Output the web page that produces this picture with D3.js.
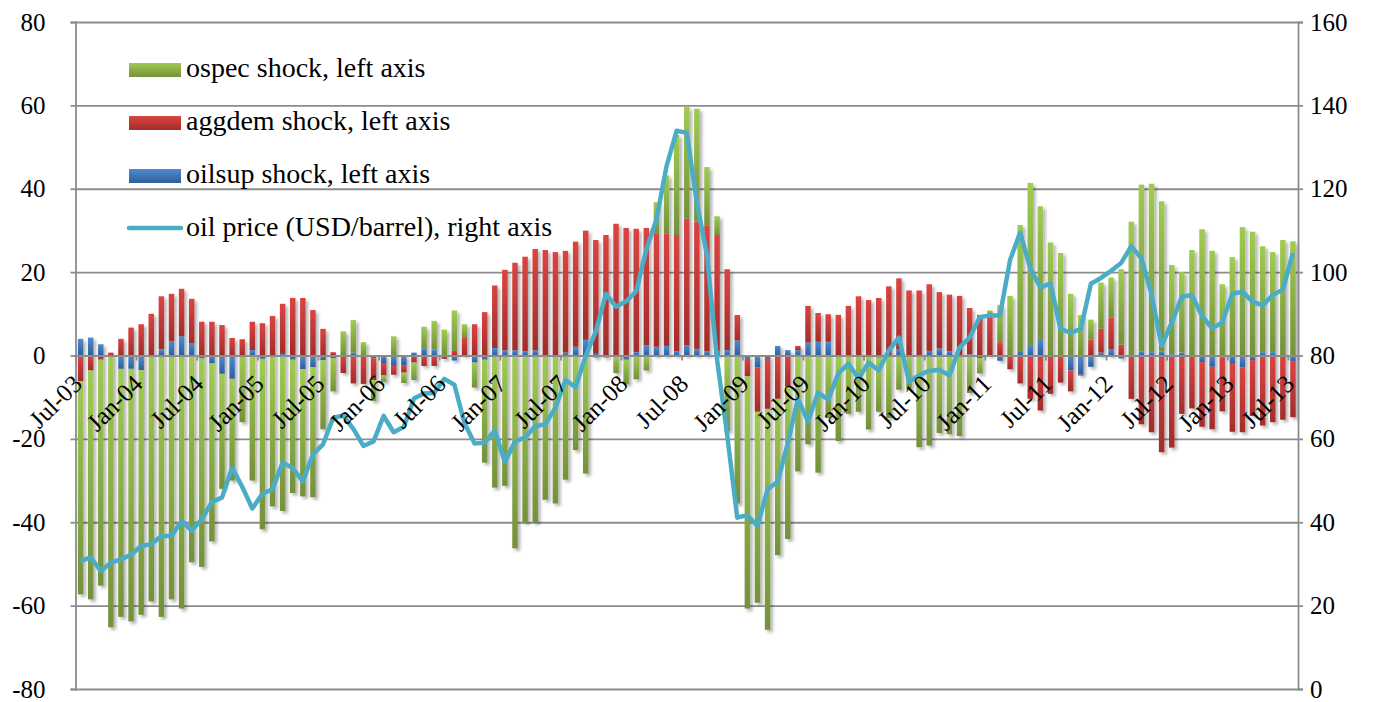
<!DOCTYPE html>
<html>
<head>
<meta charset="utf-8">
<script src="https://cdn.jsdelivr.net/npm/d3@7"></script>
<style>
  body { margin: 0; background: #fff; }
  text { font-family: "Liberation Serif", "Times New Roman", serif; fill: #000; }
</style>
</head>
<body>
<svg id="chart" width="1383" height="702"></svg>
<script>
// monthly categories Jul-03 .. Jul-13
var months = d3.timeMonth.range(new Date(2003, 6, 1), new Date(2013, 7, 1));
var tickLabels = ["Jul-03","Jan-04","Jul-04","Jan-05","Jul-05","Jan-06","Jul-06","Jan-07","Jul-07","Jan-08","Jul-08",
  "Jan-09","Jul-09","Jan-10","Jul-10","Jan-11","Jul-11","Jan-12","Jul-12","Jan-13","Jul-13"];
var leftTicks = [-80, -60, -40, -20, 0, 20, 40, 60, 80];
var rightTicks = [0, 20, 40, 60, 80, 100, 120, 140, 160];

var oilsup = [
  4.0, 4.3, 2.7, 0, -3.2, -3.2,
  -3.5, 0, 1.5, 3.5, 4.6, 3.0, -0.7, -1.9, -4.4, -5.6, 0, 1.3,
  -0.8, 0, 0.4, -1.0, -3.3, -2.8, -1.1, -0.7, 0, 0.7, 0, -0.7,
  -1.8, -2.5, -2.3, 0.7, 1.7, 1.4, 0, -1.2, 0, -1.7, -1.0, 1.8,
  1.25, 1.25, 1.0, 1.25, 0, 0, 0.7, 2.1, 3.75, 0.4, 0, 0,
  -1.0, 0.8, 2.5, 2.1, 2.3, 1.0, 2.5, 1.6, 1.0, 1.0, 1.3, 3.6,
  -0.8, -2.8, -0.8, 2.3, 1.3, 1.3, 3.1, 3.3, 3.3, 0, 0, 0,
  0, -0.5, 0, 1.4, 0, 0, 1.1, 1.7, 1.0, 0, 0.3, -0.6,
  0, -1.25, 0, 1.1, 2.3, 4.0, 0, 0, -3.6, -4.6, -2.7, 0.7,
  1.4, -0.7, 0, 1.0, 0.8, 1.0, 0.3, 0.7, 0, -1.6, -2.7, -0.5,
  -1.8, -2.9, -1.1, 0.8, 0.8, 0, -1.3
];
var aggdem = [
  -6.2, -3.6, -1.0, 0.7, 4.0, 6.7,
  7.5, 10.0, 12.7, 11.3, 11.4, 10.6, 8.1, 8.1, 7.3, 4.2, 3.9, 6.8,
  7.75, 9.5, 12.0, 13.8, 13.8, 10.9, 6.4, 0.8, -4.2, -6.7, -6.8, -5.2,
  -3.0, -2.1, -1.8, -1.7, -2.5, -2.5, -0.8, 1.1, 4.2, 7.5, 10.4, 15.0,
  19.3, 21.0, 22.7, 24.3, 25.3, 24.8, 24.4, 25.2, 26.2, 27.3, 28.9, 31.6,
  30.6, 29.6, 28.1, 27.1, 27.0, 27.9, 30.3, 30.5, 30.1, 27.9, 19.4, 6.1,
  -4.2, -10.7, -12.0, -10.4, -7.5, 1.0, 8.8, 6.9, 6.6, 9.75, 11.9, 14.2,
  13.3, 13.8, 16.6, 17.1, 15.6, 15.6, 16.0, 13.5, 13.6, 14.3, 11.1, 9.75,
  9.75, 3.2, -3.3, -6.7, -10.4, -13.2, -9.2, -6.5, -5.0, -0.2, 3.8, 5.7,
  7.7, 2.6, -10.4, -16.5, -18.4, -23.2, -22.1, -14.0, -12.7, -15.5, -15.0, -12.9,
  -16.5, -15.5, -13.4, -16.8, -16.0, -15.4, -13.5
];
var ospec = [
  -51.1, -54.9, -54.2, -65.2, -59.5, -60.6,
  -58.7, -59.0, -62.7, -58.5, -60.7, -49.6, -50.0, -42.7, -27.6, -24.4, -16.0, -30.0,
  -40.9, -36.2, -37.3, -32.0, -30.5, -31.2, -16.6, -7.9, 5.8, 7.8, 3.2, -5.0,
  -1.5, 4.6, -2.5, -4.2, 5.2, 6.9, 6.2, 9.7, 3.3, -6.0, -24.7, -31.7,
  -31.25, -46.25, -40.0, -40.0, -34.6, -35.5, -29.8, -22.7, -28.3, -0.5, -0.5, -4.2,
  -5.8, -5.7, -3.6, 7.6, 13.9, 24.0, 26.8, 27.1, 14.1, 4.5, -18.2, -35.5,
  -55.7, -45.8, -53.0, -37.5, -36.5, -27.8, -21.3, -28.1, -15.0, -20.5, -14.0, -13.5,
  -17.75, -13.0, -15.0, -8.2, -8.0, -22.0, -21.6, -18.6, -18.9, -19.3, -9.0, -3.7,
  1.05, 8.9, 14.3, 30.2, 39.1, 31.8, 27.1, 24.6, 14.8, 9.7, 4.8, 11.1,
  9.6, 18.1, 32.1, 40.0, 40.4, 36.0, 21.4, 19.3, 25.3, 30.3, 25.1, 17.1,
  23.6, 30.8, 29.7, 25.4, 24.0, 27.7, 27.4
];
var price = [
  30.7, 31.6, 28.3, 30.3, 31.1, 32.2,
  34.3, 34.7, 36.7, 36.7, 40.3, 38.0, 40.7, 44.9, 45.9, 53.1, 48.5, 43.3,
  46.8, 48.0, 54.3, 53.0, 49.8, 56.3, 58.7, 65.0, 65.6, 62.4, 58.3, 59.4,
  65.5, 61.6, 62.9, 69.7, 70.9, 71.0, 74.4, 73.0, 63.8, 58.9, 59.1, 62.0,
  54.5, 59.3, 60.4, 63.0, 63.5, 67.5, 74.1, 72.4, 79.9, 85.8, 94.8, 91.7,
  93.0, 95.4, 105.5, 112.6, 125.4, 133.9, 133.4, 116.7, 104.1, 79.0, 61.0, 41.1,
  41.7, 39.1, 47.9, 49.7, 59.0, 69.6, 64.2, 71.1, 69.4, 75.7, 78.0, 74.5,
  78.3, 76.4, 81.2, 84.3, 73.7, 75.3, 76.3, 76.6, 75.2, 81.9, 84.3, 89.2,
  89.6, 89.6, 102.9, 109.5, 100.9, 96.3, 97.3, 86.3, 85.5, 86.3, 97.2, 98.6,
  100.3, 102.2, 106.2, 103.3, 94.7, 82.3, 87.9, 94.1, 94.5, 89.5, 86.5, 87.9,
  94.8, 95.3, 92.9, 92.0, 94.5, 95.8, 104.6
];

var keys = ["oilsup", "aggdem", "ospec"];
var colors = {
  oilsup: ["#4f8bd0", "#2d5f9c"],
  aggdem: ["#db4441", "#a22c2a"],
  ospec: ["#a0cb52", "#74913a"]
};
var legendNames = {
  ospec: "ospec shock, left axis",
  aggdem: "aggdem shock, left axis",
  oilsup: "oilsup shock, left axis"
};

var rows = months.map(function (m, i) {
  return { i: i, oilsup: oilsup[i], aggdem: aggdem[i], ospec: ospec[i] };
});
var series = d3.stack().keys(keys).offset(d3.stackOffsetDiverging)(rows);

var plotL = 75.5, plotR = 1298, plotT = 22, plotB = 689;
var x = d3.scaleBand().domain(d3.range(months.length)).range([plotL, plotR])
  .paddingInner(0.46).paddingOuter(0.23);
var xb = d3.scaleLinear().domain([0, months.length]).range([plotL, plotR]);
var yL = d3.scaleLinear().domain([-80, 80]).range([plotB, plotT]);
var yR = d3.scaleLinear().domain([0, 160]).range([plotB, plotT]);
var plain = function (d) { return String(d); }; // hyphen minus, as in the original

var svg = d3.select("#chart");
var defs = svg.append("defs");
keys.forEach(function (k) {
  var g = defs.append("linearGradient").attr("id", "g-" + k)
    .attr("x1", 0).attr("y1", 0).attr("x2", 0).attr("y2", 1);
  g.append("stop").attr("offset", "0%").attr("stop-color", colors[k][0]);
  g.append("stop").attr("offset", "100%").attr("stop-color", colors[k][1]);
});
defs.append("filter").attr("id", "shadow")
  .attr("x", "-50%").attr("y", "-10%").attr("width", "200%").attr("height", "120%")
  .append("feDropShadow").attr("dx", 2.5).attr("dy", 2.5).attr("stdDeviation", 1.6)
  .attr("flood-color", "#000").attr("flood-opacity", 0.3);

// gridlines
var grid = svg.append("g").attr("transform", "translate(" + plotL + ",0)")
  .call(d3.axisLeft(yL).tickValues(leftTicks).tickSize(-(plotR - plotL)).tickFormat(""));
grid.select(".domain").remove();
grid.selectAll("line").attr("stroke", "#8c8c8c").attr("stroke-width", 1.8);

// bars
svg.append("g").attr("filter", "url(#shadow)")
  .selectAll("g").data(series).enter().append("g")
  .attr("fill", function (s) { return "url(#g-" + s.key + ")"; })
  .selectAll("rect").data(function (s) { return s; }).enter().append("rect")
  .attr("x", function (d) { return x(d.data.i); })
  .attr("width", x.bandwidth())
  .attr("y", function (d) { return yL(Math.max(d[0], d[1])); })
  .attr("height", function (d) { return Math.abs(yL(d[0]) - yL(d[1])); });

// left axis
var axL = svg.append("g").attr("transform", "translate(" + plotL + ",0)")
  .call(d3.axisLeft(yL).tickValues(leftTicks).tickSize(5).tickPadding(25).tickFormat(plain));
axL.selectAll("line, path").attr("stroke", "#8c8c8c").attr("stroke-width", 1.8);
axL.selectAll("text").style("font-size", "25px").attr("font-family", null);

// right axis
var axR = svg.append("g").attr("transform", "translate(" + plotR + ",0)")
  .call(d3.axisRight(yR).tickValues(rightTicks).tickSize(5).tickPadding(7).tickFormat(plain));
axR.selectAll("line, path").attr("stroke", "#8c8c8c").attr("stroke-width", 1.8);
axR.selectAll("text").style("font-size", "25px").attr("font-family", null);

// category axis at zero
var axX = svg.append("g").attr("transform", "translate(0," + yL(0) + ")")
  .call(d3.axisBottom(xb).tickValues(d3.range(0, months.length, 6)).tickSize(5).tickFormat(""));
axX.selectAll("line, path").attr("stroke", "#8c8c8c").attr("stroke-width", 1.8);

// price line
svg.append("path").datum(price)
  .attr("fill", "none").attr("stroke", "#4bacc6").attr("stroke-width", 4.5)
  .attr("stroke-linejoin", "round")
  .attr("d", d3.line()
    .x(function (d, i) { return x(i) + x.bandwidth() / 2; })
    .y(function (d) { return yR(d); }));

// category labels
svg.append("g").selectAll("text").data(tickLabels).enter().append("text")
  .attr("text-anchor", "end")
  .style("font-size", "25px")
  .attr("transform", function (d, k) {
    var cx = x(k * 6) + x.bandwidth() / 2 + 3;
    return "translate(" + cx + "," + (yL(0) + 30) + ") rotate(-45)";
  })
  .text(function (d) { return d; });

// legend
var legend = svg.append("g");
var legendKeys = ["ospec", "aggdem", "oilsup"];
legendKeys.forEach(function (k, j) {
  var yb = 77 + j * 53;
  legend.append("rect").attr("x", 129).attr("y", yb - 14).attr("width", 52).attr("height", 14)
    .attr("fill", "url(#g-" + k + ")");
  legend.append("text").attr("x", 186).attr("y", yb).style("font-size", "28px").text(legendNames[k]);
});
legend.append("line").attr("x1", 129).attr("x2", 181).attr("y1", 228).attr("y2", 228)
  .attr("stroke", "#4bacc6").attr("stroke-width", 4.5).attr("stroke-linecap", "round");
legend.append("text").attr("x", 186).attr("y", 236).style("font-size", "28px")
  .text("oil price (USD/barrel), right axis");
</script>
</body>
</html>
